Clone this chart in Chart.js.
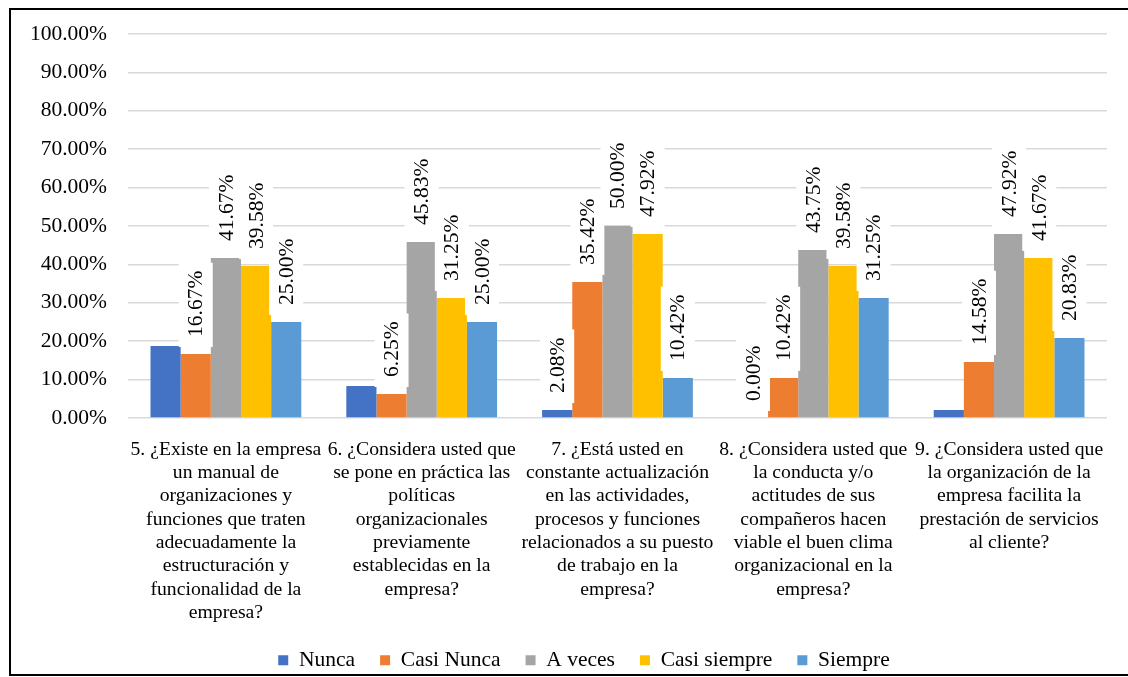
<!DOCTYPE html>
<html lang="es">
<head>
<meta charset="utf-8">
<title>Resultados de la encuesta</title>
<script src="https://cdn.jsdelivr.net/npm/chart.js@4.4.1/dist/chart.umd.min.js"></script>
<style>
  html, body { margin: 0; padding: 0; background: #fff; }
  #wrap { width: 1128px; height: 677px; }
</style>
</head>
<body>
<div id="wrap"><canvas id="grafico" width="1128" height="677"></canvas></div>
<script>
// Preguntas (una etiqueta de varias líneas por categoría)
const preguntas = [
  ["5. ¿Existe en la empresa", "un manual de", "organizaciones y", "funciones que traten", "adecuadamente la", "estructuración y", "funcionalidad de la", "empresa?"],
  ["6. ¿Considera usted que", "se pone en práctica las", "políticas", "organizacionales", "previamente", "establecidas en la", "empresa?"],
  ["7. ¿Está usted en", "constante actualización", "en las actividades,", "procesos y funciones", "relacionados a su puesto", "de trabajo en la", "empresa?"],
  ["8. ¿Considera usted que", "la conducta y/o", "actitudes de sus", "compañeros hacen", "viable el buen clima", "organizacional en la", "empresa?"],
  ["9. ¿Considera usted que", "la organización de la", "empresa facilita la", "prestación de servicios", "al cliente?"]
];

// Porcentaje de respuestas por opción
const nunca       = [18.75, 8.33, 2.08, 0.00, 2.08];
const casiNunca   = [16.67, 6.25, 35.42, 10.42, 14.58];
const aVeces      = [41.67, 45.83, 50.00, 43.75, 47.92];
const casiSiempre = [39.58, 31.25, 47.92, 39.58, 41.67];
const siempre     = [25.00, 25.00, 10.42, 31.25, 20.83];

// Etiquetas de valor visibles para la serie "Nunca"
const nuncaConEtiqueta = [false, false, true, true, false];

// Marcas del eje vertical
const ticksEjeY = [0, 10, 20, 30, 40, 50, 60, 70, 80, 90, 100];

const SERIF = "'Liberation Serif', 'Times New Roman', serif";

// Etiquetas de valor verticales con fondo blanco sobre cada barra
const etiquetasBarras = {
  id: 'etiquetasBarras',
  afterDatasetsDraw(chart) {
    const ctx = chart.ctx;
    ctx.save();
    ctx.font = '21.5px ' + SERIF;
    chart.data.datasets.forEach((ds, i) => {
      const meta = chart.getDatasetMeta(i);
      meta.data.forEach((bar, j) => {
        if (ds.etiquetas && !ds.etiquetas[j]) return;
        const texto = ds.data[j].toFixed(2) + '%';
        const w = ctx.measureText(texto).width;
        ctx.save();
        ctx.translate(bar.x, bar.y);
        ctx.rotate(-Math.PI / 2);
        ctx.fillStyle = '#fff';
        ctx.fillRect(7, -17, w + 18, 34);
        ctx.fillStyle = '#000';
        ctx.textAlign = 'left';
        ctx.textBaseline = 'middle';
        ctx.fillText(texto, 17, 1);
        ctx.restore();
      });
    });
    ctx.restore();
  }
};

// Fondo blanco, marco del gráfico y leyenda centrada bajo el área útil
const marco = {
  id: 'marco',
  afterLayout(chart) {
    if (chart.legend) {
      chart.legend.left = 61;
      chart.legend.right = 1107;
    }
  },
  beforeDraw(chart) {
    const ctx = chart.ctx;
    ctx.save();
    ctx.fillStyle = '#fff';
    ctx.fillRect(0, 0, chart.width, chart.height);
    ctx.restore();
  },
  afterDraw(chart) {
    const ctx = chart.ctx;
    ctx.save();
    ctx.strokeStyle = '#000';
    ctx.lineWidth = 2;
    ctx.strokeRect(10, 9, 1140, 666);
    ctx.restore();
  }
};

new Chart(document.getElementById('grafico'), {
  type: 'bar',
  data: {
    labels: preguntas,
    datasets: [
      { label: 'Nunca',        data: nunca,       backgroundColor: '#4472C4', etiquetas: nuncaConEtiqueta },
      { label: 'Casi Nunca',   data: casiNunca,   backgroundColor: '#ED7D31' },
      { label: 'A veces',      data: aVeces,      backgroundColor: '#A5A5A5' },
      { label: 'Casi siempre', data: casiSiempre, backgroundColor: '#FFC000' },
      { label: 'Siempre',      data: siempre,     backgroundColor: '#5B9BD5' }
    ]
  },
  options: {
    responsive: false,
    animation: false,
    devicePixelRatio: 1,
    datasets: { bar: { categoryPercentage: 0.77, barPercentage: 1.0, borderWidth: 0 } },
    layout: { padding: { left: 10, right: 21, top: 31, bottom: -4 } },
    plugins: {
      tooltip: { enabled: false },
      legend: {
        position: 'bottom',
        labels: {
          boxWidth: 10,
          boxHeight: 10,
          padding: 25,
          color: '#000',
          font: { family: SERIF, size: 21.5 }
        }
      }
    },
    scales: {
      x: {
        grid: { display: false },
        border: { display: false },
        ticks: {
          autoSkip: false,
          maxRotation: 0,
          minRotation: 0,
          padding: 12,
          color: '#000',
          font: { family: SERIF, size: 19.7, lineHeight: 1.183 }
        },
        afterFit(scale) { scale.height = 206.5; }
      },
      y: {
        min: 0,
        max: 100,
        border: { display: false },
        grid: { color: '#d9d9d9', lineWidth: 1.5, drawTicks: false },
        afterBuildTicks(scale) { scale.ticks = ticksEjeY.map(v => ({ value: v })); },
        ticks: {
          padding: 21,
          color: '#000',
          font: { family: SERIF, size: 21.5 },
          callback: v => v.toFixed(2) + '%'
        },
        afterFit(scale) { scale.width = 118; }
      }
    }
  },
  plugins: [marco, etiquetasBarras]
});
</script>
</body>
</html>
